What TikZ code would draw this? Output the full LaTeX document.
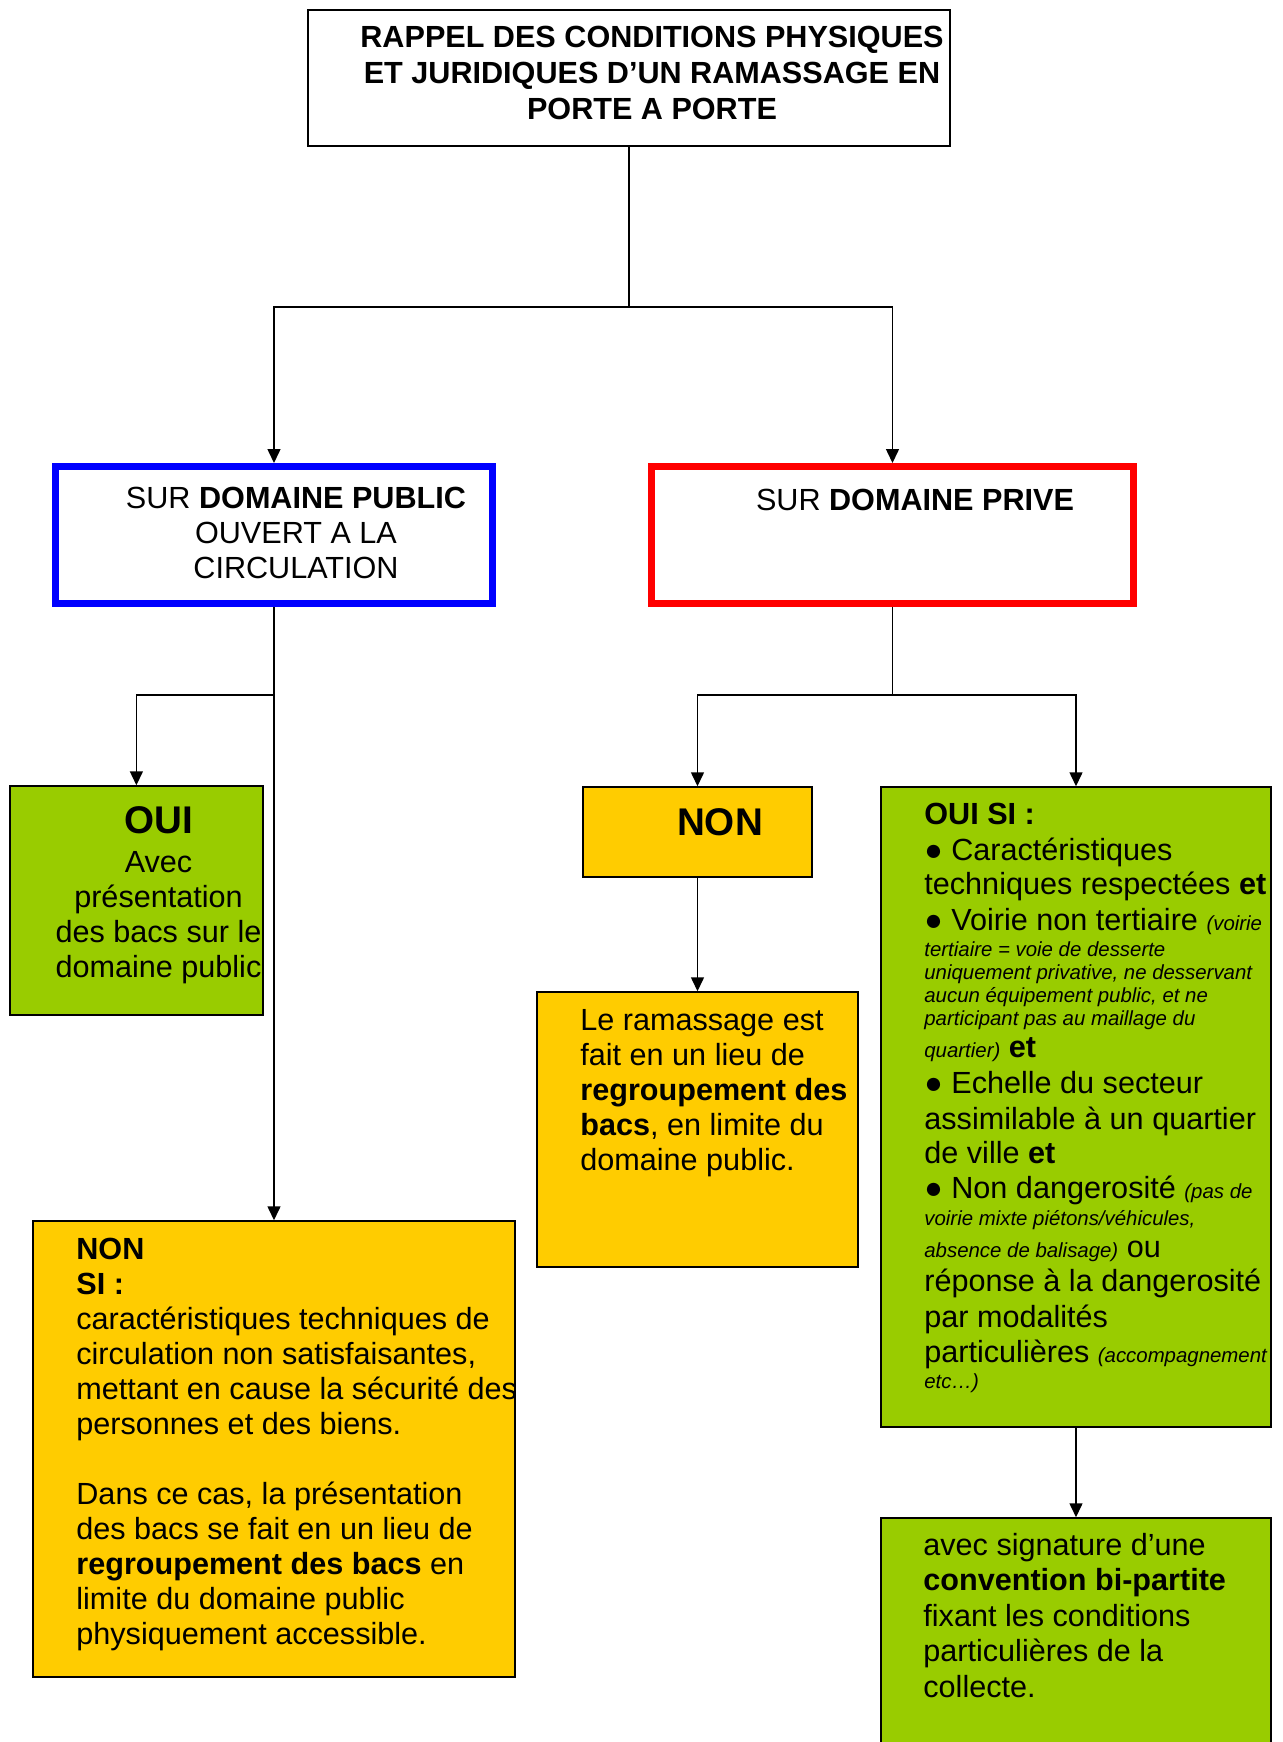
\documentclass[tikz,border=0pt]{standalone}
\usepackage{fontspec}
\setmainfont{Liberation Sans}
\usetikzlibrary{arrows.meta}
\pgfdeclarelayer{edgelayer}
\pgfdeclarelayer{nodelayer}
\pgfsetlayers{edgelayer,nodelayer,main}
\definecolor{ouigreen}{HTML}{99CC00}
\definecolor{nonyellow}{HTML}{FFCC00}
\newcommand\bodyfont{\fontsize{15.3}{17.5}\selectfont}
\newcommand\notefont{\fontsize{10.2}{11.5}\selectfont\itshape}
\newcommand\tightfont{\fontsize{15.3}{11.5}\selectfont\lineskiplimit=-100pt\relax}
\newcommand\headfont{\fontsize{19.3}{22}\selectfont\bfseries}
\tikzset{font=\bodyfont}
\tikzstyle{box}=[rectangle,draw=black,line width=0.75pt,inner sep=0pt]
\tikzstyle{areabox}=[rectangle,line width=3.5pt,fill=white,inner sep=0pt]
\tikzstyle{txt}=[inner sep=0pt,anchor=base west,align=flush left,text width=240pt]
\tikzstyle{ctxt}=[inner sep=0pt,anchor=base,align=flush center,text width=320pt]
\tikzstyle{link}=[line width=0.75pt]
\tikzstyle{arrow}=[line width=0.75pt,-{Triangle[length=7pt,width=6.5pt]}]

\begin{document}
\begin{tikzpicture}[x=0.5pt,y=-0.5pt]
	\useasboundingbox (0,0) rectangle (1283,1742);
	\begin{pgfonlayer}{nodelayer}
		\node [box,fill=white,minimum width=321pt,minimum height=68pt] (title) at (629, 78) {};
		\node [areabox,draw=blue,minimum width=218.5pt,minimum height=68.5pt] (blue) at (274, 535) {};
		\node [areabox,draw=red,minimum width=241pt,minimum height=68.5pt] (red) at (892.5, 535) {};
		\node [box,fill=ouigreen,minimum width=126.5pt,minimum height=114.5pt] (oui) at (136.4, 900.5) {};
		\node [box,fill=nonyellow,minimum width=241pt,minimum height=228pt] (nonsi) at (274, 1449) {};
		\node [box,fill=nonyellow,minimum width=114.5pt,minimum height=45pt] (non) at (697.5, 832) {};
		\node [box,fill=nonyellow,minimum width=160.5pt,minimum height=137.5pt] (ramassage) at (697.5, 1129.5) {};
		\node [box,fill=ouigreen,minimum width=195pt,minimum height=320pt] (ouisi) at (1076, 1107) {};
		\node [box,fill=ouigreen,minimum width=195pt,minimum height=150pt] (convention) at (1076, 1668) {};
		\coordinate (top) at (629, 307);
		\coordinate (pubsplit) at (274, 695);
		\coordinate (privsplit) at (892.5, 695);

		\node [ctxt,font=\fontsize{15.3}{18}\selectfont\bfseries] (titletext) at (652, 47) {RAPPEL DES CONDITIONS PHYSIQUES\\ET JURIDIQUES D’UN RAMASSAGE EN\\PORTE A PORTE};
		\node [ctxt] (bluetext) at (296, 508) {SUR \textbf{DOMAINE PUBLIC}\\OUVERT A LA\\CIRCULATION};
		\node [ctxt] (redtext) at (915, 510) {SUR \textbf{DOMAINE PRIVE}};
		\node [ctxt,font=\headfont] (ouihead) at (158.5, 833) {OUI};
		\node [ctxt] (ouitext) at (158.5, 872) {Avec\\présentation\\des bacs sur le\\domaine public};
		\node [ctxt,font=\headfont] (nonhead) at (720, 835) {NON};
		\node [txt] (ramassagetext) at (580, 1030) {Le ramassage est\\fait en un lieu de\\\textbf{regroupement des}\\\textbf{bacs}, en limite du\\domaine public.};
		\node [txt] (nonsitext) at (76, 1259) {\textbf{NON}\\\textbf{SI :}\\caractéristiques techniques de\\circulation non satisfaisantes,\\mettant en cause la sécurité des\\personnes et des biens.\\[17.5pt]Dans ce cas, la présentation\\des bacs se fait en un lieu de\\\textbf{regroupement des bacs} en\\limite du domaine public\\physiquement accessible.};
		\node [txt,font=\tightfont] (ouisitext) at (924, 824) {\textbf{OUI SI :}\\[6.5pt]
			● Caractéristiques\\[5.5pt]
			techniques respectées \textbf{et}\\[6.5pt]
			● Voirie non tertiaire {\notefont (voirie}\\[1.5pt]
			{\notefont tertiaire = voie de desserte}\\
			{\notefont uniquement privative, ne desservant}\\
			{\notefont aucun équipement public, et ne}\\
			{\notefont participant pas au maillage du}\\[4.5pt]
			{\notefont quartier)} \textbf{et}\\[6.5pt]
			● Echelle du secteur\\[6.5pt]
			assimilable à un quartier\\[5.5pt]
			de ville \textbf{et}\\[6pt]
			● Non dangerosité {\notefont (pas de}\\[2pt]
			{\notefont voirie mixte piétons/véhicules,}\\[4.5pt]
			{\notefont absence de balisage)} ou\\[5.5pt]
			réponse à la dangerosité\\[6.5pt]
			par modalités\\[6pt]
			particulières {\notefont (accompagnement}\\[1.5pt]
			{\notefont etc…)}};
		\node [txt,font=\fontsize{15.3}{17.75}\selectfont] (conventiontext) at (923, 1555) {avec signature d’une\\\textbf{convention bi-partite}\\fixant les conditions\\particulières de la\\collecte.};
	\end{pgfonlayer}
	\begin{pgfonlayer}{edgelayer}
		\draw [link] (title.south) -- (top);
		\draw [arrow] (top) -| (blue.north);
		\draw [arrow] (top) -| (red.north);
		\draw [arrow] (blue.south) -- (nonsi.north);
		\draw [arrow] (pubsplit) -| (oui.north);
		\draw [link] (red.south) -- (privsplit);
		\draw [arrow] (privsplit) -| (non.north);
		\draw [arrow] (privsplit) -| (ouisi.north);
		\draw [arrow] (non.south) -- (ramassage.north);
		\draw [arrow] (ouisi.south) -- (convention.north);
	\end{pgfonlayer}
\end{tikzpicture}
\end{document}
